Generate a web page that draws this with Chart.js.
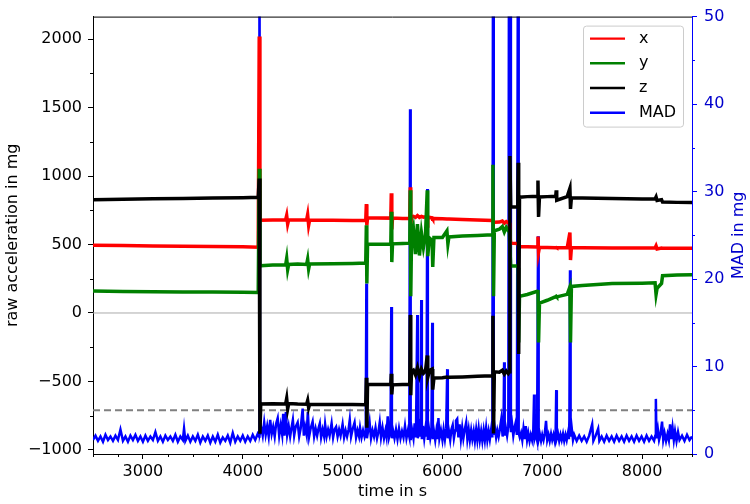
<!DOCTYPE html>
<html>
<head>
<meta charset="utf-8">
<script src="https://cdn.jsdelivr.net/npm/chart.js@4"></script>
<style>
  html, body { margin: 0; padding: 0; background: #fff; }
</style>
</head>
<body>
<canvas id="myChart" width="750" height="504"></canvas>
<script>
// axis ranges and tick labels
const timeRange = [2500, 8500];
const timeTicks = [3000, 4000, 5000, 6000, 7000, 8000];
const accRange = [-1030, 2165];
const accTicks = [-1000, -500, 0, 500, 1000, 1500, 2000];
const madRange = [0, 50];
const madTicks = [0, 10, 20, 30, 40, 50];
const madThreshold = 5;

// raw acceleration (mg)
const accTime = [
  2500, 2800, 3100, 3400, 3700, 4000, 4155, 4165, 4172, 4180,
  4300, 4430, 4440, 4450, 4460, 4550, 4640, 4650, 4660, 4670,
  4900, 5100, 5232, 5238, 5243, 5250, 5350, 5483, 5488, 5493,
  5500, 5600, 5673, 5678, 5683, 5690, 5710, 5730, 5750, 5770,
  5790, 5810, 5830, 5848, 5853, 5870, 5897, 5903, 5915, 6000,
  6045, 6055, 6065, 6200, 6350, 6500, 6506, 6512, 6520, 6570,
  6600, 6620, 6640, 6660, 6670, 6676, 6684, 6755, 6759, 6764,
  6772, 6850, 6950, 6957, 6963, 6972, 7050, 7135, 7140, 7145,
  7250, 7277, 7283, 7292, 7400, 7700, 8000, 8130, 8140, 8150,
  8195, 8205, 8350, 8500
];
const accX = [
  495, 493, 490, 488, 486, 483, 480, 2020, 690, 678,
  680, 681, 712, 650, 680, 679, 680, 718, 642, 680,
  678, 676, 675, 795, 640, 695, 694, 693, 875, 610,
  693, 691, 690, 918, 640, 700, 706, 698, 712, 699,
  706, 700, 703, 700, 690, 698, 695, 688, 690, 688,
  686, 686, 686, 683, 679, 675, 670, 662, 662, 664,
  672, 656, 668, 659, 660, 560, 510, 508, 505, 480,
  485, 484, 482, 559, 444, 480, 478, 477, 478, 476,
  476, 588, 387, 477, 476, 474, 474, 474, 490, 468,
  474, 473, 473, 472
];
const accY = [
  160, 157, 156, 154, 153, 151, 150, 1053, 340, 345,
  350, 352, 398, 318, 355, 357, 355, 392, 322, 358,
  360, 362, 365, 640, 215, 502, 503, 504, 740, 372,
  505, 508, 510, 896, 122, 520, 610, 430, 650, 420,
  585, 480, 565, 896, 415, 548, 530, 337, 552, 552,
  600, 505, 555, 562, 566, 572, 1082, 122, 600, 612,
  632, 592, 626, 602, 610, 470, 344, 344, 330, -215,
  122, 135, 158, 168, -215, 72, 93, 120, 122, 118,
  136, 190, -215, 194, 201, 215, 218, 220, 136, 180,
  215, 272, 278, 280
];
const accZ = [
  828, 831, 834, 837, 840, 842, 845, 982, -882, -665,
  -663, -664, -625, -700, -662, -665, -666, -640, -692, -667,
  -668, -669, -670, -473, -838, -523, -522, -523, -444, -595,
  -525, -522, -522, -14, -600, -430, -418, -452, -400, -462,
  -410, -440, -425, -310, -470, -420, -410, -560, -475, -473,
  -468, -472, -470, -467, -462, -458, -20, -880, -430, -432,
  -418, -446, -424, -442, -430, 1147, 775, 775, 1097, -300,
  846, 850, 852, 968, 702, 848, 850, 852, 896, 824,
  850, 910, 760, 842, 840, 836, 833, 833, 848, 822,
  828, 810, 808, 807
];

// MAD (mg) as [time, value]
const madSeries = [
  [2500,1.6],[2525,2.1],[2550,1.5],[2575,2.0],[2600,1.4],[2625,2.2],[2650,1.6],[2675,2.0],[2700,1.5],[2725,2.1],
  [2750,1.6],[2775,2.8],[2800,1.5],[2825,2.0],[2850,1.4],[2875,2.1],[2900,1.6],[2925,2.2],[2950,1.5],[2975,2.0],
  [3000,1.4],[3025,2.1],[3050,1.5],[3075,2.0],[3100,1.6],[3125,2.5],[3150,1.5],[3175,2.0],[3200,1.4],[3225,2.1],
  [3250,1.6],[3275,2.0],[3300,1.5],[3325,2.2],[3350,1.4],[3375,2.0],[3400,1.6],[3412,2.9],[3425,1.5],[3450,2.1],
  [3475,1.4],[3500,2.0],[3525,1.5],[3550,2.2],[3575,1.3],[3600,2.0],[3625,1.5],[3650,2.1],[3675,1.3],[3700,2.0],
  [3725,1.4],[3750,2.2],[3775,1.3],[3800,1.9],[3825,1.5],[3850,2.1],[3875,1.3],[3900,2.4],[3925,1.4],[3950,2.0],
  [3975,1.5],[4000,2.1],[4025,1.4],[4050,2.0],[4075,1.5],[4100,2.2],[4125,1.6],[4150,2.3],
  [4163,2.0],[4167,70],[4173,2.4],
  [4185,3.0],[4200,2.1],[4215,3.6],[4230,2.2],[4245,3.2],[4260,2.0],[4275,3.9],[4290,2.3],[4305,3.1],[4320,2.0],
  [4335,3.5],[4350,4.1],[4365,2.1],[4380,3.3],[4395,2.2],[4405,4.6],[4418,2.1],[4432,4.8],[4445,2.2],[4460,3.2],
  [4475,2.0],[4490,3.1],[4502,3.9],[4515,2.1],[4530,3.1],[4550,3.6],[4565,2.0],[4580,2.9],[4600,5.2],[4612,2.1],
  [4625,3.1],[4640,2.2],[4652,4.8],[4665,2.0],[4680,2.9],[4700,3.7],[4715,2.0],[4730,2.9],[4745,2.1],[4760,3.0],
  [4772,3.5],[4785,1.9],[4800,2.8],[4815,2.0],[4825,3.4],[4840,2.0],[4855,2.8],[4870,2.1],[4890,3.5],[4905,1.9],
  [4920,2.8],[4935,3.1],[4950,2.0],[4965,2.8],[4980,2.1],[5000,3.4],[5015,1.9],[5030,2.7],[5045,2.0],[5060,2.8],
  [5072,3.9],[5085,2.0],[5100,2.8],[5120,3.6],[5135,1.9],[5150,2.7],[5165,2.0],[5175,3.0],[5190,1.9],[5205,2.7],
  [5220,2.0],[5232,2.6],
  [5238,19.5],[5244,1.8],
  [5255,2.6],[5270,3.7],[5285,1.8],[5300,2.7],[5315,2.0],[5330,3.0],[5345,1.8],[5360,2.6],[5372,3.6],[5385,1.9],
  [5400,3.0],[5415,1.8],[5430,2.7],[5440,2.0],[5452,4.3],[5465,1.9],[5480,2.6],
  [5488,16.8],[5494,1.8],
  [5505,2.7],[5520,1.8],[5535,2.8],[5550,1.7],[5565,2.9],[5580,1.8],[5595,2.6],[5610,1.9],[5625,3.2],[5640,1.8],
  [5655,2.7],[5668,2.0],
  [5676,39.4],[5682,1.6],
  [5695,2.8],[5710,1.8],[5722,3.5],[5735,1.9],[5748,15.9],[5754,1.8],[5768,3.0],[5780,2.0],[5788,17.6],[5794,1.7],
  [5805,3.2],[5818,1.8],[5830,2.9],[5840,2.0],[5848,30.3],[5854,1.6],[5865,2.9],[5878,1.8],[5890,2.6],[5898,15.0],
  [5904,1.7],[5915,2.6],[5928,1.6],[5940,2.7],[5952,1.7],[5960,4.1],[5970,1.8],[5985,2.7],[6000,1.6],[6012,2.8],
  [6025,1.7],[6038,2.9],[6048,9.7],[6054,1.8],[6065,2.6],[6078,1.6],[6090,2.8],[6103,3.3],[6115,1.8],[6128,2.7],
  [6136,3.8],[6148,4.0],[6160,1.9],[6172,3.4],[6185,1.7],[6198,3.0],[6210,1.8],[6222,2.7],[6238,3.6],[6250,1.7],
  [6263,2.8],[6275,1.6],[6288,2.7],[6300,1.7],[6313,2.6],[6325,1.5],[6338,2.8],[6350,1.6],[6363,2.9],[6375,1.6],
  [6388,2.6],[6400,1.5],[6413,2.7],[6425,1.6],[6438,3.0],[6450,1.6],[6463,2.6],[6475,1.7],[6488,2.8],[6500,1.9],
  [6508,70],[6514,2.2],
  [6525,3.0],[6538,1.9],[6550,2.7],[6563,2.0],[6575,2.8],[6590,4.0],[6603,2.0],[6612,2.9],[6618,10.5],[6624,2.1],
  [6635,3.0],[6648,2.1],[6660,3.1],[6668,70],[6674,3.0],[6680,70],[6686,2.5],[6698,3.4],[6710,2.1],[6722,3.0],
  [6734,3.6],[6746,2.2],[6758,70],[6764,2.4],
  [6775,1.9],[6788,2.4],[6800,1.6],[6812,2.9],[6825,1.7],[6835,3.2],[6848,1.6],[6860,2.4],[6873,1.5],[6885,2.2],
  [6898,1.6],[6910,2.6],[6918,6.8],[6924,1.8],[6935,2.3],[6948,1.6],[6958,24.9],[6964,1.7],[6975,2.3],[6988,1.5],
  [7000,2.2],[7013,1.6],[7025,2.3],[7038,3.8],[7050,1.6],[7063,2.2],[7075,1.5],[7088,2.3],[7100,1.6],[7113,2.2],
  [7125,1.5],[7134,2.4],[7140,7.3],[7146,1.8],[7158,2.3],[7170,1.5],[7183,2.2],[7195,1.6],[7208,2.3],[7220,1.5],
  [7233,2.2],[7245,1.6],[7258,2.4],[7267,1.7],[7272,4.0],[7278,21.0],[7284,2.0],[7295,3.0],[7308,1.6],[7320,2.2],
  [7345,1.5],[7370,2.1],[7395,1.5],[7420,2.0],[7445,1.4],[7470,2.1],[7500,3.4],[7512,1.5],[7535,2.1],[7560,2.9],
  [7572,1.5],[7595,2.0],[7620,1.4],[7645,2.1],[7670,1.5],[7695,2.0],[7720,1.4],[7745,2.1],[7770,1.5],[7795,2.0],
  [7820,1.4],[7845,2.1],[7870,1.5],[7895,2.0],[7920,1.4],[7945,2.1],[7970,1.5],[7995,2.0],[8020,1.4],[8045,2.1],
  [8070,1.5],[8095,2.0],[8120,1.5],[8132,2.1],[8138,6.3],[8144,1.8],[8158,2.8],[8170,1.6],[8185,2.3],[8200,3.7],
  [8212,1.6],[8225,2.4],[8240,1.5],[8255,2.3],[8268,1.6],[8280,3.4],[8292,1.7],[8305,3.0],[8318,1.6],[8330,2.6],
  [8345,1.5],[8360,2.5],[8375,1.6],[8400,2.1],[8425,1.5],[8450,2.2],[8475,1.6],[8500,2.0]
];

const legendNames = ['x', 'y', 'z', 'MAD'];

Chart.defaults.font.family = 'DejaVu Sans';
Chart.defaults.font.size = 16;
Chart.defaults.color = '#000';

function pts(times, vals) {
  return times.map((t, i) => ({x: t, y: vals[i]}));
}

// minor ticks, top spine, right label, legend box
const extras = {
  id: 'extras',
  afterDraw(chart) {
    const ctx = chart.ctx;
    const area = chart.chartArea;
    const sx = chart.scales.x, sy = chart.scales.y, sm = chart.scales.y2;
    ctx.save();
    ctx.lineWidth = 1;

    ctx.strokeStyle = '#000';
    ctx.beginPath();
    for (let v = Math.ceil(sx.min / 250) * 250; v <= sx.max; v += 250) {
      if (v % 1000 === 0) continue;
      const px = Math.round(sx.getPixelForValue(v)) + 0.5;
      ctx.moveTo(px, area.bottom); ctx.lineTo(px, area.bottom + 3);
    }
    for (let v = Math.ceil(sy.min / 250) * 250; v <= sy.max; v += 250) {
      if (v % 500 === 0) continue;
      const py = Math.round(sy.getPixelForValue(v)) + 0.5;
      ctx.moveTo(area.left, py); ctx.lineTo(area.left - 3, py);
    }
    ctx.moveTo(area.left, area.top + 0.5); ctx.lineTo(area.right, area.top + 0.5);
    ctx.stroke();

    ctx.strokeStyle = '#0000ff';
    ctx.beginPath();
    for (let v = 5; v < sm.max; v += 10) {
      const py = Math.round(sm.getPixelForValue(v)) + 0.5;
      ctx.moveTo(area.right, py); ctx.lineTo(area.right + 3, py);
    }
    ctx.stroke();

    // right axis label, reading upward
    ctx.fillStyle = '#0000cc';
    ctx.font = '16px "DejaVu Sans"';
    ctx.textAlign = 'center';
    ctx.textBaseline = 'middle';
    ctx.translate(739, (area.top + area.bottom) / 2);
    ctx.rotate(-Math.PI / 2);
    ctx.fillText('MAD in mg', 0, 0);
    ctx.setTransform(1, 0, 0, 1, 0, 0);

    // legend
    const bx = area.right - 109, by = area.top + 9, bw = 100, bh = 101;
    ctx.fillStyle = 'rgba(255,255,255,0.8)';
    ctx.strokeStyle = '#cccccc';
    ctx.beginPath();
    ctx.roundRect(bx + 0.5, by + 0.5, bw, bh, 3);
    ctx.fill();
    ctx.stroke();
    ctx.textAlign = 'left';
    legendNames.forEach((name, i) => {
      const ds = chart.data.datasets.find(d => d.label === name);
      const y = by + 13 + i * 24.7;
      ctx.strokeStyle = ds.borderColor;
      ctx.lineWidth = 2.4;
      ctx.beginPath();
      ctx.moveTo(bx + 7, y); ctx.lineTo(bx + 42, y);
      ctx.stroke();
      ctx.fillStyle = '#000';
      ctx.fillText(name, bx + 56, y);
    });
    ctx.restore();
  }
};

const line = (label, data, color, width, axis, order) => ({
  label, data, borderColor: color, borderWidth: width, yAxisID: axis, order,
  pointRadius: 0, tension: 0, fill: false
});

new Chart(document.getElementById('myChart'), {
  type: 'line',
  data: {
    datasets: [
      line('z', pts(accTime, accZ), '#000000', 3.5, 'y', 0),
      line('y', pts(accTime, accY), '#008000', 3.5, 'y', 1),
      line('x', pts(accTime, accX), '#ff0000', 3.5, 'y', 2),
      line('MAD', madSeries.map(p => ({x: p[0], y: p[1]})), '#0000ff', 2.5, 'y2', 3),
      Object.assign(line('threshold', pts(timeRange, [madThreshold, madThreshold]), '#808080', 2, 'y2', 4), {borderDash: [7, 4]}),
      line('zero', pts(timeRange, [0, 0]), '#aaaaaa', 1, 'y', 5)
    ]
  },
  options: {
    responsive: false,
    animation: false,
    devicePixelRatio: 1,
    layout: {padding: {top: 8, left: 0, right: 0, bottom: 0}},
    plugins: {legend: {display: false}, tooltip: {enabled: false}},
    scales: {
      x: {
        type: 'linear', min: timeRange[0], max: timeRange[1],
        afterBuildTicks: s => { s.ticks = timeTicks.map(v => ({value: v})); },
        afterFit: s => { s.height = 50; },
        ticks: {padding: 3, maxRotation: 0, callback: v => String(v)},
        grid: {display: true, drawOnChartArea: false, drawTicks: true, tickLength: 5, tickColor: '#000'},
        border: {display: true, color: '#000', width: 1},
        title: {display: true, text: 'time in s', padding: {top: 0, bottom: 3}}
      },
      y: {
        type: 'linear', position: 'left', min: accRange[0], max: accRange[1],
        afterBuildTicks: s => { s.ticks = accTicks.map(v => ({value: v})); },
        afterFit: s => { s.width = 93; },
        ticks: {padding: 6, callback: v => String(v).replace('-', '\u2212')},
        grid: {display: true, drawOnChartArea: false, drawTicks: true, tickLength: 5, tickColor: '#000'},
        border: {display: true, color: '#000', width: 1},
        title: {display: true, text: 'raw acceleration in mg', padding: {top: 3, bottom: 0}}
      },
      y2: {
        type: 'linear', position: 'right', min: madRange[0], max: madRange[1],
        afterBuildTicks: s => { s.ticks = madTicks.map(v => ({value: v})); },
        afterFit: s => { s.width = 58; },
        ticks: {padding: 7, color: '#0000cc', callback: v => String(v)},
        grid: {display: true, drawOnChartArea: false, drawTicks: true, tickLength: 5, tickColor: '#0000ff'},
        border: {display: true, color: '#0000ff', width: 1}
      }
    }
  },
  plugins: [extras]
});
</script>
</body>
</html>
